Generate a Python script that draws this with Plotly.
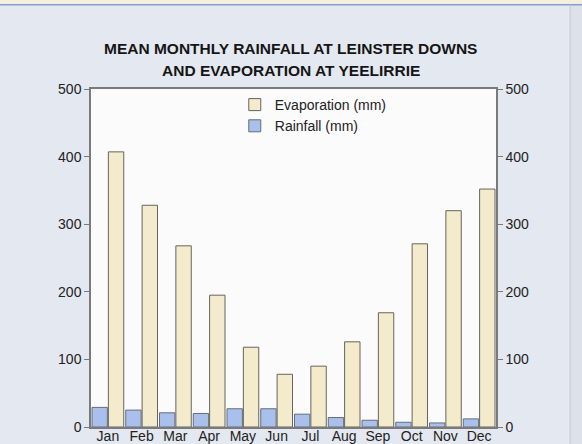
import plotly.graph_objects as go

months = ['Jan', 'Feb', 'Mar', 'Apr', 'May', 'Jun', 'Jul', 'Aug', 'Sep', 'Oct', 'Nov', 'Dec']
rainfall_mm = [29, 25, 21, 20, 27, 27, 19, 14, 10, 7, 6, 12]
evaporation_mm = [407, 328, 268, 195, 118, 78, 90, 126, 169, 271, 320, 352]
y_ticks = [0, 100, 200, 300, 400, 500]
title_lines = ['MEAN MONTHLY RAINFALL AT LEINSTER DOWNS', 'AND EVAPORATION AT YEELIRRIE']

FONT = "Liberation Sans, Arial, sans-serif"
AXIS_COL = "#7a7a7a"

fig = go.Figure()

# rainfall sits left of evaporation in each month; evaporation goes on the
# right-hand axis (same scale) so that axis gets drawn too
fig.add_trace(go.Bar(
    x=months, y=rainfall_mm, name='Rainfall (mm)', offsetgroup='rain',
    marker=dict(color='#a9c0ec', line=dict(color='#666c78', width=1))
))
fig.add_trace(go.Bar(
    x=months, y=evaporation_mm, name='Evaporation (mm)', offsetgroup='evap',
    yaxis='y2',
    marker=dict(color='#f3ebcc', line=dict(color='#66645c', width=1))
))

axis_common = dict(
    range=[0, 500], tickvals=y_ticks, showgrid=False, zeroline=False,
    showline=True, linecolor=AXIS_COL, linewidth=1.5,
    ticks='outside', ticklen=5, tickcolor=AXIS_COL,
    tickfont=dict(family=FONT, size=14, color='#222'),
    automargin=False, fixedrange=True,
)

fig.update_layout(
    template='none',
    width=582, height=444,
    margin=dict(l=91, r=86, t=89, b=17),
    paper_bgcolor='#e4e8f0',
    plot_bgcolor='#fbfbfc',
    barmode='group', bargap=0.03, bargroupgap=0.06,
    xaxis=dict(
        range=[-0.5, 11.5], showgrid=False, showline=True, mirror=True,
        linecolor=AXIS_COL, linewidth=1.5, ticks='', ticklabelstandoff=-5,
        tickfont=dict(family=FONT, size=14, color='#222'),
        automargin=False, fixedrange=True,
    ),
    yaxis=dict(side='left', **axis_common),
    yaxis2=dict(side='right', overlaying='y', **axis_common),
    legend=dict(
        x=0.355, y=1.0, xanchor='left', yanchor='top',
        traceorder='reversed', bgcolor='rgba(0,0,0,0)',
        font=dict(family=FONT, size=14, color='#222'),
        itemclick=False, itemdoubleclick=False,
    ),
    showlegend=True,
)

# two-line title, wider line spacing than plotly's <br>
for line, ypos in zip(title_lines, [1.121, 1.055]):
    fig.add_annotation(
        text=line, xref='paper', yref='paper', x=0.4926, y=ypos,
        xanchor='center', yanchor='middle', showarrow=False,
        font=dict(family=FONT, size=15.5, color='#151515', weight='bold'),
    )

# page decoration: pale strip and blue rule at top, page edge on the right
fig.add_shape(type='rect', xref='paper', yref='paper', x0=-0.23, x1=1.22, y0=1.252, y1=1.27,
              fillcolor='#f3f1dc', line_width=0, layer='below')
fig.add_shape(type='line', xref='paper', yref='paper', x0=-0.23, x1=1.22, y0=1.249, y1=1.249,
              line=dict(color='#8e9bd0', width=1.5))
fig.add_shape(type='rect', xref='paper', yref='paper', x0=1.183, x1=1.22, y0=-0.06, y1=1.249,
              fillcolor='#dde1ea', line_width=0, layer='below')
fig.add_shape(type='line', xref='paper', yref='paper', x0=1.183, x1=1.183, y0=-0.06, y1=1.249,
              line=dict(color='#c6cad3', width=1))

fig.write_html("out.html", config=dict(displayModeBar=False),
               post_script="document.body.style.margin='0';document.body.style.overflow='hidden';")
